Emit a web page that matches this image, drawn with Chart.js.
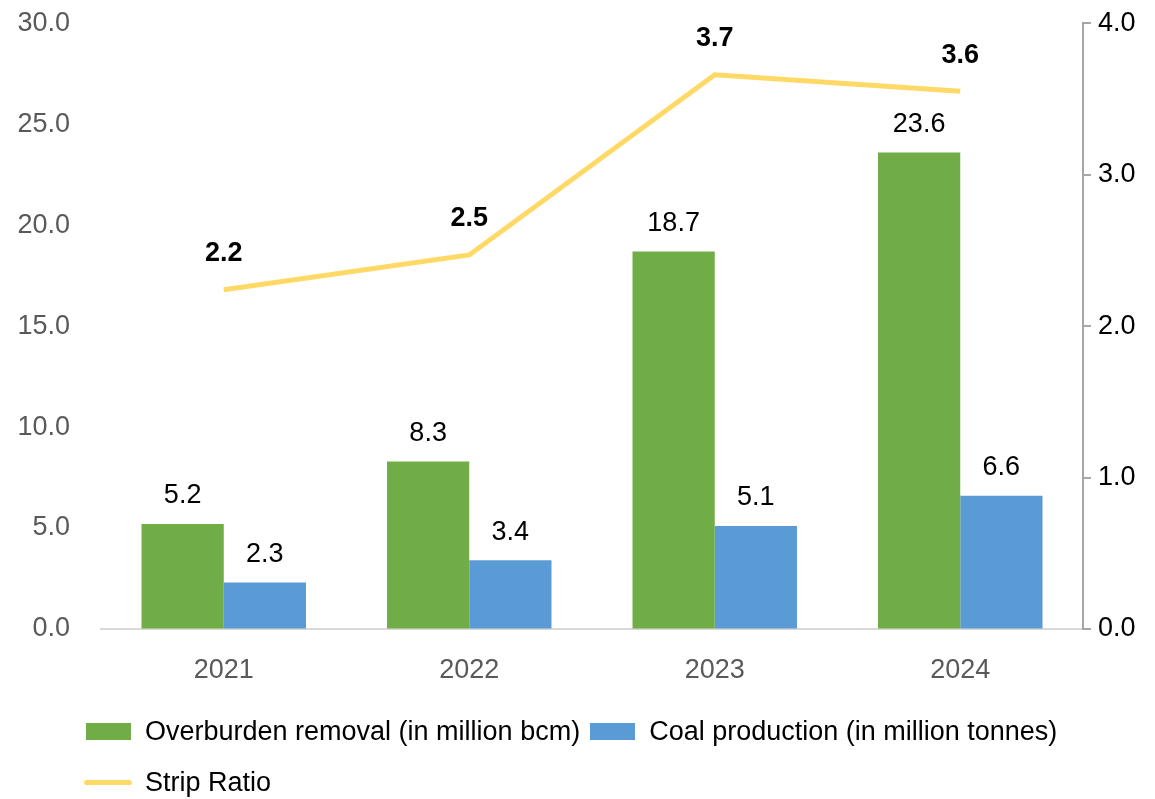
<!DOCTYPE html>
<html>
<head>
<meta charset="utf-8">
<script src="https://cdn.jsdelivr.net/npm/chart.js@4"></script>
<style>
  html, body { margin: 0; padding: 0; background: #fff; }
  #wrap { position: relative; width: 1155px; height: 799px; }
  #chart { position: absolute; left: 0; top: 0; }
  #legend { position: absolute; left: 86px; top: 714px; width: 1069px;
    font-family: "Liberation Sans", Arial, sans-serif; font-size: 27px; color: #000; }
  .row { display: flex; align-items: center; height: 34px; margin-bottom: 17px; white-space: nowrap; }
  .item { display: flex; align-items: center; margin-right: 10px; }
  .box { width: 45px; height: 17px; margin-right: 14px; }
  .ln { width: 48px; height: 5px; border-radius: 3px; margin-left: -2px; margin-right: 13px; }
</style>
</head>
<body>
<div id="wrap">
  <canvas id="chart" width="1155" height="799"></canvas>
  <div id="legend"></div>
</div>
<script>
const years = ['2021', '2022', '2023', '2024'];
const overburden = [5.2, 8.3, 18.7, 23.6];
const coal = [2.3, 3.4, 5.1, 6.6];
const stripRatio = [2.24, 2.47, 3.66, 3.55];
const stripLabels = ['2.2', '2.5', '3.7', '3.6'];
const seriesNames = ['Overburden removal (in million bcm)', 'Coal production (in million tonnes)', 'Strip Ratio'];
const colors = ['#70AD47', '#5B9BD5', '#FFD966'];

const FONT = '"Liberation Sans", Arial, sans-serif';

// draws the value labels above bars and line points
const valueLabels = {
  id: 'valueLabels',
  afterDatasetsDraw(chart) {
    const ctx = chart.ctx;
    ctx.save();
    ctx.textAlign = 'center';
    ctx.textBaseline = 'middle';
    ctx.fillStyle = '#000';
    chart.data.datasets.forEach((ds, i) => {
      const meta = chart.getDatasetMeta(i);
      meta.data.forEach((el, j) => {
        if (ds.type === 'line') {
          ctx.font = 'bold 27px ' + FONT;
          ctx.fillText(stripLabels[j], el.x, el.y - 36);
        } else {
          ctx.font = '27px ' + FONT;
          ctx.fillText(ds.data[j].toFixed(1), el.x, el.y - 28);
        }
      });
    });
    ctx.restore();
  }
};

new Chart(document.getElementById('chart'), {
  data: {
    labels: years,
    datasets: [
      { type: 'line', label: seriesNames[2], data: stripRatio, yAxisID: 'y2',
        borderColor: colors[2], borderWidth: 5, pointRadius: 0, tension: 0, order: 0 },
      { type: 'bar', label: seriesNames[0], data: overburden, yAxisID: 'y',
        backgroundColor: colors[0], categoryPercentage: 0.67, barPercentage: 1, order: 1 },
      { type: 'bar', label: seriesNames[1], data: coal, yAxisID: 'y',
        backgroundColor: colors[1], categoryPercentage: 0.67, barPercentage: 1, order: 1 }
    ]
  },
  options: {
    responsive: false,
    animation: false,
    layout: { padding: { top: -3, bottom: 0 } },
    plugins: { legend: { display: false }, tooltip: { enabled: false } },
    scales: {
      x: {
        grid: { display: false, drawTicks: false },
        border: { color: '#D9D9D9', width: 2 },
        ticks: { color: '#595959', font: { family: FONT, size: 27 }, padding: 25 },
        afterFit(s) { s.height = 170; }
      },
      y: {
        position: 'left', min: 0, max: 30,
        grid: { display: true, drawOnChartArea: false, tickLength: 31, color: 'rgba(0,0,0,0)' },
        border: { display: false },
        ticks: { stepSize: 5, color: '#595959', font: { family: FONT, size: 27 }, padding: 0,
          callback: v => v.toFixed(1) },
        afterFit(s) { s.width = 101; }
      },
      y2: {
        position: 'right', min: 0, max: 4,
        grid: { drawOnChartArea: false, tickLength: 8, color: '#A6A6A6', lineWidth: 2 },
        border: { color: '#A6A6A6', width: 2 },
        ticks: { stepSize: 1, color: '#000', font: { family: FONT, size: 27 }, padding: 7,
          callback: v => v.toFixed(1) },
        afterFit(s) { s.width = 72; }
      }
    }
  },
  plugins: [valueLabels]
});

const legend = document.getElementById('legend');
legend.innerHTML =
  '<div class="row">' +
    '<div class="item"><span class="box" style="background:' + colors[0] + '"></span>' + seriesNames[0] + '</div>' +
    '<div class="item"><span class="box" style="background:' + colors[1] + '"></span>' + seriesNames[1] + '</div>' +
  '</div>' +
  '<div class="row">' +
    '<div class="item"><span class="ln" style="background:' + colors[2] + '"></span>' + seriesNames[2] + '</div>' +
  '</div>';
</script>
</body>
</html>
